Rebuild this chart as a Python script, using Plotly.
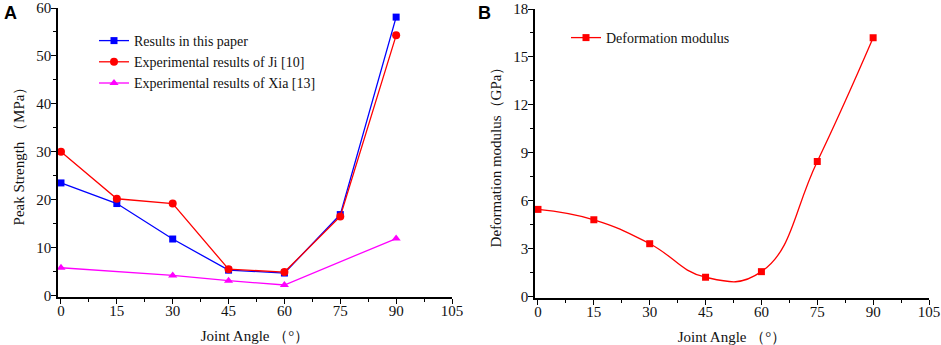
import plotly.graph_objects as go

angles = [0, 15, 30, 45, 60, 75, 90]
paper_results = [23.5, 19.2, 11.8, 5.3, 4.7, 16.9, 58.1]
ji_results = [30.0, 20.2, 19.2, 5.5, 4.9, 16.5, 54.3]
xia_angles = [0, 30, 45, 60, 90]
xia_results = [5.8, 4.2, 3.1, 2.2, 11.9]
modulus = [5.45, 4.8, 3.3, 1.2, 1.55, 8.45, 16.2]

W, H = 941, 345
FONT = "Liberation Serif"

fig = go.Figure()
fig.add_trace(go.Scatter(x=angles, y=paper_results, mode="lines+markers", name="Results in this paper",
                         line=dict(color="#0000FF", width=1.3), marker=dict(symbol="square", size=7, color="#0000FF"),
                         xaxis="x", yaxis="y", legend="legend"))
fig.add_trace(go.Scatter(x=angles, y=ji_results, mode="lines+markers", name="Experimental results of Ji [10]",
                         line=dict(color="#FF0000", width=1.3), marker=dict(symbol="circle", size=8, color="#FF0000"),
                         xaxis="x", yaxis="y", legend="legend"))
fig.add_trace(go.Scatter(x=xia_angles, y=xia_results, mode="lines+markers", name="Experimental results of Xia [13]",
                         line=dict(color="#FF00FF", width=1.3), marker=dict(symbol="triangle-up", size=8, color="#FF00FF"),
                         xaxis="x", yaxis="y", legend="legend"))
fig.add_trace(go.Scatter(x=angles, y=modulus, mode="lines+markers", name="Deformation modulus",
                         line=dict(color="#FF0000", width=1.3, shape="spline", smoothing=1.3),
                         marker=dict(symbol="square", size=7, color="#FF0000"),
                         xaxis="x2", yaxis="y2", legend="legend2"))

def px_x(p):
    return p / W

def px_y(p):
    return 1 - p / H

tickfont = dict(family=FONT, size=15, color="#111")
titlefont = dict(family=FONT, size=15, color="#111")

def xax(domain, anchor):
    return dict(domain=domain, anchor=anchor, range=[-0.8, 105], tickvals=[0, 15, 30, 45, 60, 75, 90, 105],
                automargin=False, ticklabelstandoff=-6,
                showline=True, linecolor="black", linewidth=1.5, ticks="outside", ticklen=5, tickwidth=1.2,
                tickcolor="black", showgrid=False, zeroline=False, tickfont=tickfont,
                minor=dict(tickvals=[7.5, 22.5, 37.5, 52.5, 67.5, 82.5, 97.5], ticks="outside", ticklen=3, tickwidth=1.2, tickcolor="black"),
                title=dict(text="Joint Angle （°）", font=titlefont, standoff=13))

def yax(domain, anchor, rng, dtick, minor, title):
    return dict(domain=domain, anchor=anchor, range=rng, dtick=dtick, tick0=0, automargin=False,
                ticklabelstandoff=-3,
                showline=True, linecolor="black", linewidth=1.5, ticks="outside", ticklen=5, tickwidth=1.2,
                tickcolor="black", showgrid=False, zeroline=False, tickfont=tickfont,
                minor=dict(dtick=minor, tick0=0, ticks="outside", ticklen=3, tickwidth=1.2, tickcolor="black"),
                title=dict(text=title, font=titlefont, standoff=8))

fig.update_layout(
    width=W, height=H, margin=dict(l=0, r=0, t=0, b=0, autoexpand=False),
    paper_bgcolor="white", plot_bgcolor="white",
    xaxis=xax([px_x(58), px_x(452)], "y"),
    yaxis=yax([px_y(297), px_y(8)], "x", [-0.3, 60], 10, 5, "Peak Strength （MPa）"),
    xaxis2=xax([px_x(535), px_x(929)], "y2"),
    yaxis2=yax([px_y(298), px_y(9)], "x2", [-0.1, 18], 3, 1.5, "Deformation modulus（GPa）"),
    legend=dict(x=px_x(94), y=px_y(25), xanchor="left", yanchor="top", bgcolor="rgba(0,0,0,0)",
                font=dict(family=FONT, size=14, color="#111"), tracegroupgap=0),
    legend2=dict(x=px_x(566), y=px_y(22), xanchor="left", yanchor="top", bgcolor="rgba(0,0,0,0)",
                 font=dict(family=FONT, size=14, color="#111")),
    annotations=[
        dict(text="<b>A</b>", x=px_x(2), y=px_y(1), xref="paper", yref="paper", xanchor="left", yanchor="top",
             showarrow=False, font=dict(family="Liberation Sans", size=18, color="black")),
        dict(text="<b>B</b>", x=px_x(476), y=px_y(1), xref="paper", yref="paper", xanchor="left", yanchor="top",
             showarrow=False, font=dict(family="Liberation Sans", size=18, color="black")),
    ],
)

fig.write_html("out.html", config={"displayModeBar": False},
               post_script="document.body.style.margin='0';document.body.style.overflow='hidden';")
